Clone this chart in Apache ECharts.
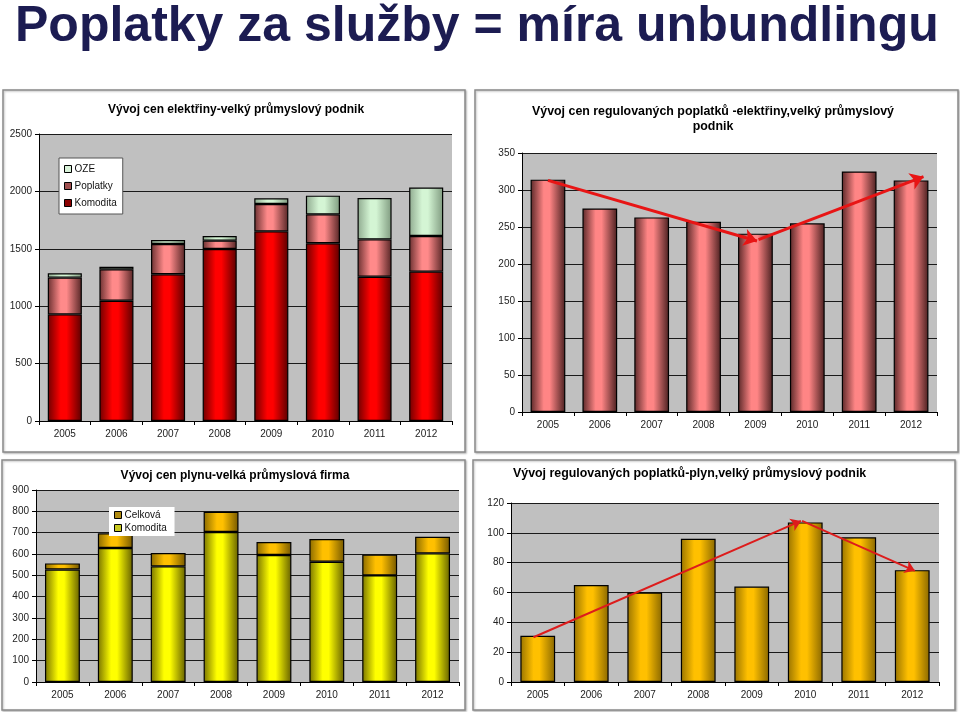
<!DOCTYPE html>
<html>
<head>
<meta charset="utf-8">
<script src="https://cdn.jsdelivr.net/npm/echarts@6/dist/echarts.min.js"></script>
<style>
html,body{margin:0;padding:0;background:#fff;}
#chart{width:960px;height:712px;}
</style>
</head>
<body>
<div id="chart"></div>
<script>
// ---- data ----
const years = ['2005','2006','2007','2008','2009','2010','2011','2012'];
// electricity, large industrial company (stacked)
const elKomodita = [929, 1048, 1278, 1498, 1652, 1548, 1257, 1301];
const elPoplatky = [320, 273, 264, 73, 238, 252, 325, 310];
const elOZE      = [37, 23, 35, 40, 50, 163, 360, 422];
// regulated charges – electricity
const elRegulated = [314, 275, 263, 257, 241, 255, 325, 313];
// gas, large industrial company (stacked)
const gasKomodita = [527, 628, 542, 703, 595, 564, 500, 603];
const gasCelkova  = [29, 69, 63, 95, 61, 106, 97, 78];
// regulated charges – gas
const gasRegulated = [31, 65, 60, 96, 64, 107, 97, 75];
// trend arrows [x index, value]
const elTrendDown = [[0, 313], [4.03, 231]];
const elTrendUp   = [[4.06, 233], [7.24, 318]];
const gasTrendUp   = [[-0.08, 30], [4.92, 108]];
const gasTrendDown = [[4.94, 108], [7.05, 74.5]];

const pageTitle = 'Poplatky za služby = míra unbundlingu';
const titles = [
  'Vývoj cen elektřiny-velký průmyslový podnik',
  'Vývoj cen regulovaných poplatků -elektřiny,velký průmyslový\npodnik',
  'Vývoj cen plynu-velká průmyslová firma',
  'Vývoj regulovaných poplatků-plyn,velký průmyslový podnik'
];

// ---- styling helpers ----
const FONT = 'Liberation Sans, Arial, sans-serif';
function cyl(edge, mid, edge2) {
  return new echarts.graphic.LinearGradient(0, 0, 1, 0, [
    {offset: 0, color: edge},
    {offset: 0.38, color: mid},
    {offset: 0.55, color: mid},
    {offset: 1, color: edge2 || edge}
  ]);
}
function barStyle(edge, mid, edge2) {
  return {color: cyl(edge, mid, edge2), borderColor: '#000', borderWidth: 1.2};
}

const grids = [
  {left: 39, right: 508, top: 134, bottom: 291},
  {left: 522, right: 23, top: 153, bottom: 300},
  {left: 36, right: 501, top: 490, bottom: 30},
  {left: 511, right: 21, top: 503, bottom: 30}
].map(g => Object.assign({show: true, backgroundColor: '#c0c0c0', borderWidth: 0}, g));

function catAxis(gi) {
  return {
    type: 'category', gridIndex: gi, data: years,
    axisLine: {lineStyle: {color: '#000', width: 1}},
    axisTick: {show: true, length: 4, lineStyle: {color: '#000'}},
    axisLabel: {color: '#222', fontSize: 10, fontFamily: FONT, margin: 8}
  };
}
function hiddenX(gi) {
  return {type: 'value', gridIndex: gi, min: -0.5, max: 7.5, show: false};
}
function valAxis(gi, max, interval) {
  return {
    type: 'value', gridIndex: gi, min: 0, max: max, interval: interval,
    axisLine: {show: true, onZero: false, lineStyle: {color: '#000', width: 1}},
    axisTick: {show: true, length: 4, lineStyle: {color: '#000'}},
    axisLabel: {color: '#222', fontSize: 10, fontFamily: FONT, margin: 7,
                formatter: v => String(v)},
    splitLine: {show: true, lineStyle: {color: '#1a1a1a', width: 1}}
  };
}
function arrow(name, xi, yi, seg, color, width, size) {
  return {
    type: 'lines', name: name, coordinateSystem: 'cartesian2d',
    xAxisIndex: xi, yAxisIndex: yi, z: 5,
    symbol: ['none', 'arrow'], symbolSize: size,
    lineStyle: {color: color, width: width, opacity: 1, curveness: 0},
    data: [{coords: seg}], silent: true
  };
}

const panels = [
  [3, 90, 462, 362], [475, 90, 483, 362], [2, 460, 463, 250], [473, 460, 482, 250]
];

const option = {
  animation: false,
  backgroundColor: '#fff',
  title: [{
    text: pageTitle, left: 10, top: -3,
    textStyle: {fontSize: 50, fontWeight: 'bold', color: '#1c1c52', fontFamily: FONT}
  }],
  graphic: panels.map(p => ({
    type: 'rect', z: -10, silent: true,
    shape: {x: p[0], y: p[1], width: p[2], height: p[3]},
    style: {fill: '#fff', stroke: '#8a8a8a', lineWidth: 1.5,
            shadowColor: 'rgba(0,0,0,0.25)', shadowBlur: 2, shadowOffsetX: 1, shadowOffsetY: 1}
  })).concat([
    {type: 'text', silent: true, z: 10,
     style: {text: titles[0], x: 236, y: 104, textAlign: 'center', font: 'bold 12px ' + FONT, fill: '#000'}},
    {type: 'text', silent: true, z: 10,
     style: {text: titles[1], x: 713, y: 104, textAlign: 'center', font: 'bold 12.4px ' + FONT, fill: '#000', lineHeight: 15}},
    {type: 'text', silent: true, z: 10,
     style: {text: titles[2], x: 235, y: 470, textAlign: 'center', font: 'bold 12px ' + FONT, fill: '#000'}},
    {type: 'text', silent: true, z: 10,
     style: {text: titles[3], x: 513, y: 468, textAlign: 'left', font: 'bold 12.4px ' + FONT, fill: '#000'}}
  ]),
  legend: [
    {
      left: 59, top: 158, orient: 'vertical', itemGap: 7, padding: [6, 6, 6, 5],
      itemWidth: 7, itemHeight: 7, icon: 'rect',
      backgroundColor: '#fff', borderColor: '#555', borderWidth: 1,
      textStyle: {fontSize: 10, fontFamily: FONT, color: '#111', padding: [0, 0, 0, -2]},
      data: [
        {name: 'OZE', itemStyle: {color: '#d9f2d9', borderColor: '#000', borderWidth: 1}},
        {name: 'Poplatky', itemStyle: {color: '#a05050', borderColor: '#000', borderWidth: 1}},
        {name: 'Komodita', itemStyle: {color: '#8b0000', borderColor: '#000', borderWidth: 1}}
      ]
    },
    {
      left: 109, top: 507, orient: 'vertical', itemGap: 3, padding: [3, 5, 3, 5],
      itemWidth: 7, itemHeight: 7, icon: 'rect',
      backgroundColor: '#fff', borderColor: '#ddd', borderWidth: 0,
      textStyle: {fontSize: 10, fontFamily: FONT, color: '#111', padding: [0, 0, 0, -2]},
      data: [
        {name: 'Celková', itemStyle: {color: '#b08a10', borderColor: '#000', borderWidth: 1}},
        {name: 'Komodita ', itemStyle: {color: '#c8c820', borderColor: '#000', borderWidth: 1}}
      ]
    }
  ],
  grid: grids,
  xAxis: [catAxis(0), catAxis(1), catAxis(2), catAxis(3), hiddenX(1), hiddenX(3)],
  yAxis: [valAxis(0, 2500, 500), valAxis(1, 350, 50), valAxis(2, 900, 100), valAxis(3, 120, 20)],
  series: [
    {type: 'bar', name: 'Komodita', stack: 'el', xAxisIndex: 0, yAxisIndex: 0, barWidth: '66%',
     data: elKomodita, itemStyle: barStyle('#6e0000', '#ff0000', '#5a0000')},
    {type: 'bar', name: 'Poplatky', stack: 'el', xAxisIndex: 0, yAxisIndex: 0, barWidth: '66%',
     data: elPoplatky, itemStyle: barStyle('#6a3030', '#ff8a8a', '#552525')},
    {type: 'bar', name: 'OZE', stack: 'el', xAxisIndex: 0, yAxisIndex: 0, barWidth: '66%',
     data: elOZE, itemStyle: barStyle('#8faa8f', '#d4f5d4', '#7f9a7f')},

    {type: 'bar', name: 'Regulované poplatky elektřina', xAxisIndex: 1, yAxisIndex: 1, barWidth: '67%',
     data: elRegulated, itemStyle: barStyle('#5a2828', '#ff8585', '#4a2020')},
    arrow('trend1', 4, 1, elTrendDown, '#e81515', 3, 13),
    arrow('trend2', 4, 1, elTrendUp, '#e81515', 3, 13),

    {type: 'bar', name: 'Komodita ', stack: 'gas', xAxisIndex: 2, yAxisIndex: 2, barWidth: '66%',
     data: gasKomodita, itemStyle: barStyle('#7a7400', '#ffff00', '#666000')},
    {type: 'bar', name: 'Celková', stack: 'gas', xAxisIndex: 2, yAxisIndex: 2, barWidth: '66%',
     data: gasCelkova, itemStyle: barStyle('#8a6a00', '#ffc000', '#755800')},

    {type: 'bar', name: 'Regulované poplatky plyn', xAxisIndex: 3, yAxisIndex: 3, barWidth: '65%',
     data: gasRegulated, itemStyle: barStyle('#9a7400', '#ffc000', '#8a6800')},
    arrow('trend3', 5, 3, gasTrendUp, '#dd1c1c', 2, 10),
    arrow('trend4', 5, 3, gasTrendDown, '#dd1c1c', 2, 10)
  ]
};

const chart = echarts.init(document.getElementById('chart'), null, {renderer: 'canvas'});
chart.setOption(option);
</script>
</body>
</html>
